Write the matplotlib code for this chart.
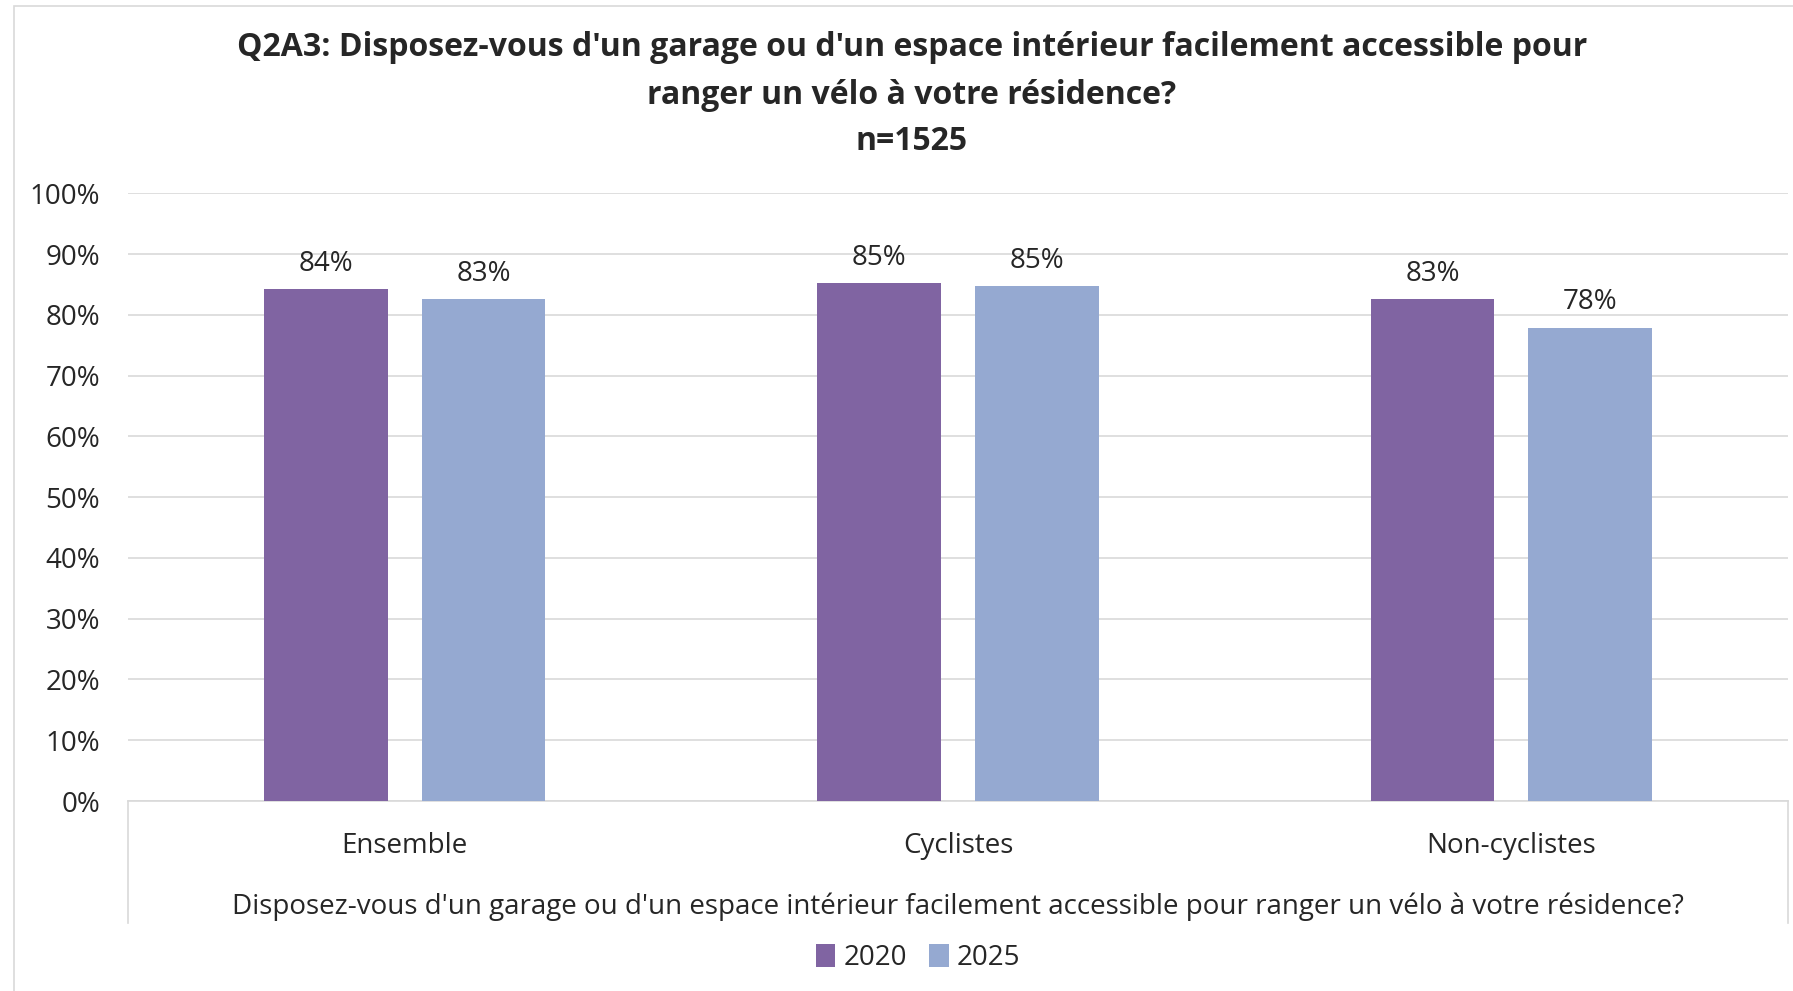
import matplotlib
matplotlib.use("Agg")
import matplotlib.pyplot as plt
import numpy as np
from matplotlib.patches import Rectangle
from matplotlib.lines import Line2D

plt.rcParams['font.family'] = ['Open Sans', 'DejaVu Sans']

categories = ["Ensemble", "Cyclistes", "Non-cyclistes"]
series_names = ["2020", "2025"]
values_2020 = [84.2, 85.2, 82.6]
values_2025 = [82.6, 84.7, 77.9]
labels_2020 = ["84%", "85%", "83%"]
labels_2025 = ["83%", "85%", "78%"]
yticks = [0, 10, 20, 30, 40, 50, 60, 70, 80, 90, 100]
title_lines = ["Q2A3: Disposez-vous d'un garage ou d'un espace intérieur facilement accessible pour",
               "ranger un vélo à votre résidence?", "n=1525"]
axis_title = "Disposez-vous d'un garage ou d'un espace intérieur facilement accessible pour ranger un vélo à votre résidence?"

c2020 = "#8064A2"
c2025 = "#95A9D1"
grid_c = "#D9D9D9"
text_c = "#262626"
fs = 20

W, H = 1793, 991
fig = plt.figure(figsize=(W / 100, H / 100), dpi=100)
fig.patch.set_facecolor("white")

# chart border
fig.patches.append(Rectangle((14 / W, -0.01), 1.02, 1 - 6 / H + 0.01, transform=fig.transFigure,
                             fill=False, edgecolor=grid_c, linewidth=1.2))

left, right = 128 / W, 1788 / W
bottom, top = (H - 801) / H, (H - 193.3) / H
ax = fig.add_axes([left, bottom, right - left, top - bottom])

x = np.arange(len(categories))
off = 0.1425
bw = 0.224
b1 = ax.bar(x - off, values_2020, bw, color=c2020, label=series_names[0], zorder=3)
b2 = ax.bar(x + off, values_2025, bw, color=c2025, label=series_names[1], zorder=3)

for bars, labs in ((b1, labels_2020), (b2, labels_2025)):
    ax.bar_label(bars, labels=labs, padding=8, fontsize=fs, color=text_c)

ax.set_xlim(-0.5, len(categories) - 0.5)
ax.set_ylim(0, 100)
ax.set_yticks(yticks)
ax.set_yticklabels([f"{t}%" for t in yticks], fontsize=fs, color=text_c)
ax.tick_params(axis='y', length=0, pad=20)
ax.yaxis.grid(True, color=grid_c, linewidth=1.2, zorder=0)
ax.set_axisbelow(True)
for s in ("top", "right", "left"):
    ax.spines[s].set_visible(False)
ax.spines["bottom"].set_color(grid_c)
ax.spines["bottom"].set_linewidth(1.2)

ax.set_xticks(x)
ax.set_xticklabels(categories, fontsize=fs, color=text_c)
ax.tick_params(axis='x', length=0, pad=22)
ax.set_xlabel(axis_title, fontsize=fs, color=text_c, labelpad=24)

# multi-level category axis frame lines
yb = -(923 - 801) / (801 - 193.3)
for xx in (0, 1):
    ax.add_line(Line2D([xx, xx], [0, yb], transform=ax.transAxes, color=grid_c,
                       linewidth=1.2, clip_on=False))

for line, yc in zip(title_lines, (48, 96, 141)):
    fig.text(912 / W, (H - yc) / H, line, ha="center", va="center", fontsize=23,
             fontweight="bold", color=text_c)

fig.legend(handles=[b1, b2], labels=series_names, loc="center", bbox_to_anchor=(918 / W, (H - 958) / H),
           ncol=2, frameon=False, fontsize=fs, handlelength=0.7, handleheight=0.9,
           handletextpad=0.3, columnspacing=0.8, labelcolor=text_c)

fig.savefig("out.png", dpi=100, facecolor="white")
